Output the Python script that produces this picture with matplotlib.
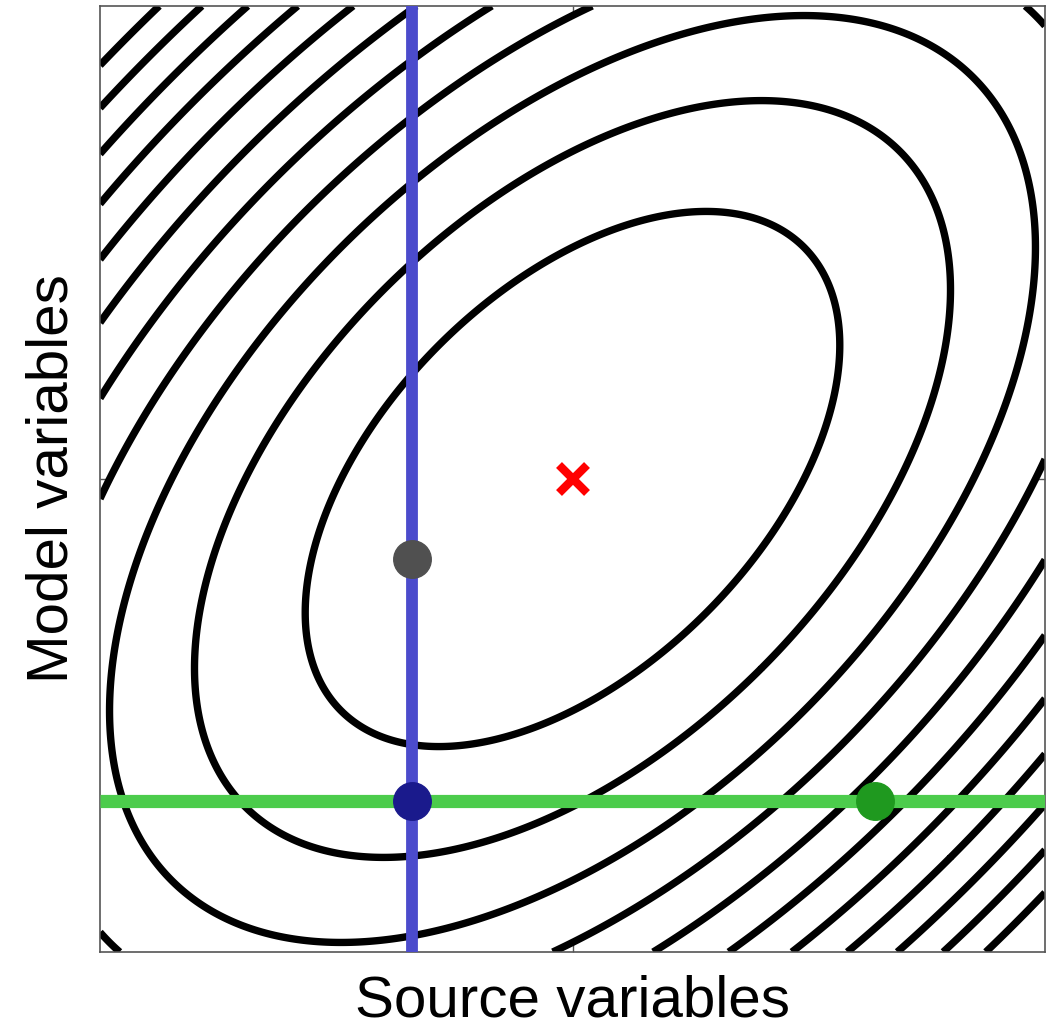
import numpy as np
import matplotlib
matplotlib.use("Agg")
import matplotlib.pyplot as plt

# ---- data ----
correlation = 0.5
center = [0.0, 0.0]
contour_levels = [0.24, 0.48, 0.72, 0.96, 1.20, 1.44, 1.68, 1.92, 2.16, 2.40, 2.64]
source_fixed = -0.34      # blue vertical line (x)
model_fixed = -0.68       # green horizontal line (y)
gray_point = [-0.34, -0.17]
navy_point = [-0.34, -0.68]
green_point = [0.64, -0.68]
x_label = "Source variables"
y_label = "Model variables"

fig = plt.figure(figsize=(10.51, 10.33), dpi=100)
ax = fig.add_axes([100/1051, 81/1033, 945/1051, 946/1033])

xs = np.linspace(-1, 1, 801)
ys = np.linspace(-1, 1, 801)
X, Y = np.meshgrid(xs, ys)
Q = (X - center[0])**2 - 2*correlation*(X - center[0])*(Y - center[1]) + (Y - center[1])**2
cs = ax.contour(X, Y, Q, levels=contour_levels, colors="black", linewidths=5.3, zorder=2)
try:
    cs.set_capstyle("butt")
except Exception:
    pass

ax.axvline(source_fixed, color="#4b4bcc", lw=8.5, zorder=3, solid_capstyle="butt")
ax.axhline(model_fixed, color="#4ccc4c", lw=9.5, zorder=3, solid_capstyle="butt")

ax.plot(gray_point[0], gray_point[1], "o", color="#505050", ms=27, zorder=5)
ax.plot(navy_point[0], navy_point[1], "o", color="#1a1a8c", ms=27, zorder=5)
ax.plot(green_point[0], green_point[1], "o", color="#1f991f", ms=27, zorder=5)
ax.plot(center[0], center[1], "x", color="red", ms=20, mew=6, zorder=6)

ax.set_xlim(-1, 1)
ax.set_ylim(-1, 1)
ax.set_xticks([0])
ax.set_yticks([0])
ax.set_xticklabels([])
ax.set_yticklabels([])
ax.tick_params(direction="in", length=6, width=1, color="#555555",
               top=True, right=True, bottom=True, left=True)
for s in ax.spines.values():
    s.set_color("#555555")
    s.set_linewidth(1.2)

ax.set_xlabel(x_label, fontsize=42, family="Liberation Sans", labelpad=13)
ax.set_ylabel(y_label, fontsize=42, family="Liberation Sans", labelpad=11)

fig.savefig("out.png", dpi=100)
